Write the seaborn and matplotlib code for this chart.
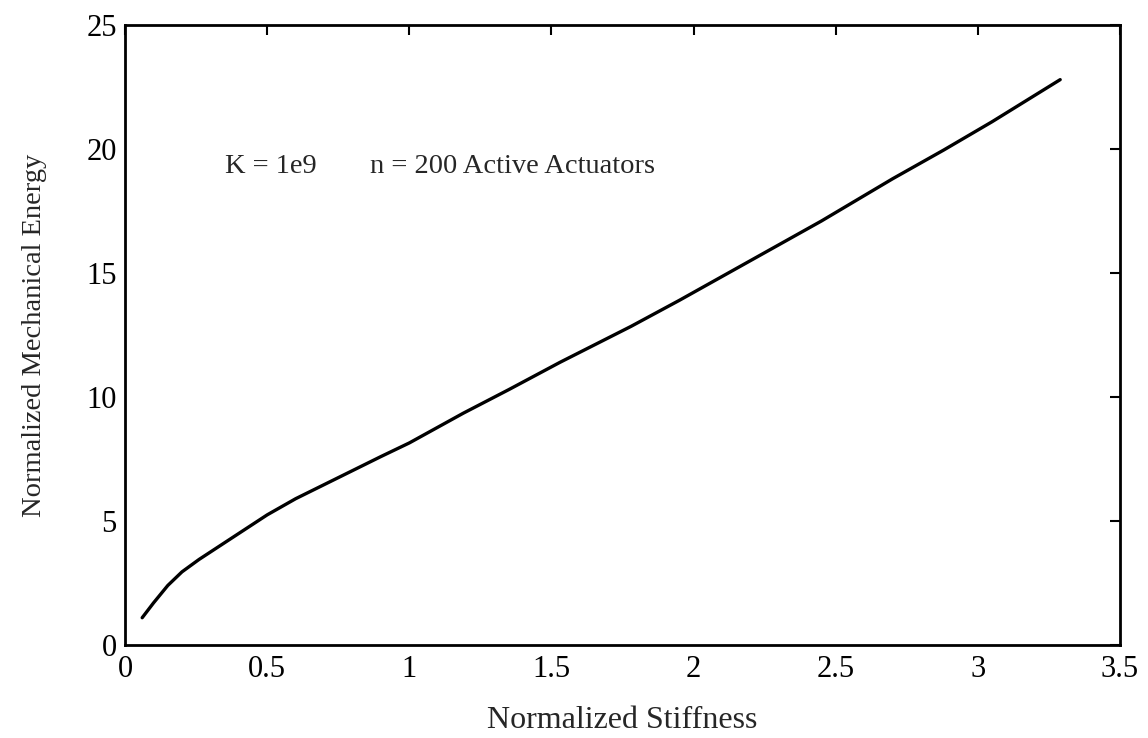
import matplotlib
matplotlib.use("Agg")
import matplotlib.pyplot as plt
import seaborn as sns
import pandas as pd

stiffness = [0.06, 0.10, 0.15, 0.20, 0.26, 0.30, 0.40, 0.50, 0.60, 0.75, 0.90, 1.00, 1.19,
             1.35, 1.53, 1.78, 1.95, 2.20, 2.45, 2.70, 2.88, 3.05, 3.29]
energy = [1.1, 1.7, 2.4, 2.95, 3.45, 3.75, 4.5, 5.25, 5.9, 6.75, 7.6, 8.15, 9.35,
          10.3, 11.4, 12.85, 13.9, 15.5, 17.1, 18.8, 19.96, 21.1, 22.8]

x_ticks = [0, 0.5, 1, 1.5, 2, 2.5, 3, 3.5]
x_tick_labels = ["0", "0.5", "1", "1.5", "2", "2.5", "3", "3.5"]
y_ticks = [0, 5, 10, 15, 20, 25]

sns.set_theme(style="white")
plt.rcParams['font.family'] = ['Liberation Serif', 'DejaVu Serif']

df = pd.DataFrame({"Normalized Stiffness": stiffness, "Normalized Mechanical Energy": energy})

fig = plt.figure(figsize=(11.48, 7.38), dpi=100)
ax = fig.add_axes([0.109, 0.126, 0.8665, 0.840])
sns.lineplot(data=df, x="Normalized Stiffness", y="Normalized Mechanical Energy", ax=ax,
             color="black", linewidth=2.4)
ax.set_xlim(0, 3.5)
ax.set_ylim(0, 25)
ax.set_xticks(x_ticks)
ax.set_xticklabels(x_tick_labels)
ax.set_yticks(y_ticks)
ax.tick_params(direction="in", length=7, width=1.5, top=True, right=True,
               labelsize=22, colors="black")
ax.tick_params(axis="x", pad=7)
ax.tick_params(axis="y", pad=6)
for s in ax.spines.values():
    s.set_color("black")
    s.set_linewidth(2)
ax.set_xlabel("Normalized Stiffness", fontsize=23, labelpad=16)
ax.set_ylabel("Normalized Mechanical Energy", fontsize=20.5, labelpad=28)
ax.text(0.352, 19.3, "K = 1e9", fontsize=20.5, va="center")
ax.text(0.863, 19.3, "n = 200 Active Actuators", fontsize=20.5, va="center")
fig.savefig("out.png", dpi=100)
